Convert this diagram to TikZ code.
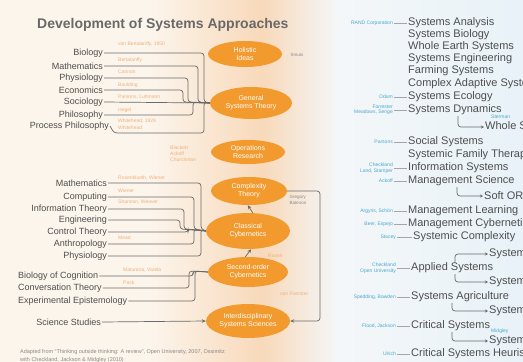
\documentclass[tikz,border=0pt]{standalone}
\usepackage{fontspec}
\setmainfont{Liberation Sans}
\usetikzlibrary{shapes.geometric,arrows.meta}
\definecolor{cream}{HTML}{FCF5EC}
\definecolor{peach}{HTML}{F8D9BA}
\definecolor{orng}{HTML}{F29A2E}
\definecolor{lineg}{HTML}{6A6A6A}
\definecolor{labg}{HTML}{4E4E4E}
\definecolor{namor}{HTML}{F0B078}
\definecolor{tealc}{HTML}{4AA8CF}
\definecolor{skyl}{HTML}{F4F7F9}
\definecolor{skyr}{HTML}{E8F2F8}
\begin{document}
\begin{tikzpicture}[x=1pt,y=-1pt,
  ell/.style={ellipse, fill=orng, text=white, inner sep=0pt, align=center,
              font=\fontsize{7}{8}\selectfont},
  src/.style={text=labg, font=\fontsize{9}{10}\selectfont, inner sep=1pt, anchor=east},
  srcl/.style={src, anchor=west},
  who/.style={text=namor, font=\fontsize{5}{6}\selectfont, inner sep=0pt, anchor=west, align=left},
  note/.style={text=lineg!80, font=\fontsize{4.5}{5.5}\selectfont, inner sep=0pt, align=left},
  conn/.style={draw=lineg, line width=0.7pt, rounded corners=3pt},
  flow/.style={conn, -{Stealth[length=4pt,width=3.5pt]}},
  item/.style={text=labg, font=\fontsize{11}{12}\selectfont, anchor=west, inner sep=1pt},
  auth/.style={text=tealc, font=\fontsize{5}{5.5}\selectfont, anchor=east, inner sep=1pt, align=right},
  tie/.style={draw=lineg!60, line width=0.5pt},
  branch/.style={draw=lineg, line width=0.7pt, rounded corners=3pt, -{Stealth[length=3pt,width=3pt]}},
]
\useasboundingbox (0,0) rectangle (523,362);
\clip (0,0) rectangle (523,362);

% panels
\fill[skyl] (0,0) rectangle (523,362);
\shade[left color=skyl, right color=skyr] (335,0) rectangle (523,362);
\fill[cream] (0,0) rectangle (300,362);
\shade[left color=cream, right color=peach] (150,0) rectangle (262,362);
\shade[left color=peach, right color=skyl] (262,0) rectangle (338,362);

% title
\node[font=\bfseries\fontsize{14}{16}\selectfont, text=labg!85, anchor=west, inner sep=0pt]
  (title) at (37,25) {Development of Systems Approaches};

% approaches
\node[ell, minimum width=74, minimum height=26] (hol) at (245,54) {Holistic\\Ideas};
\node[ell, minimum width=82, minimum height=32] (gst) at (251,103) {General\\Systems Theory};
\node[ell, minimum width=74, minimum height=24] (ops) at (248,152) {Operations\\Research};
\node[ell, minimum width=76, minimum height=28] (cpx) at (249,191) {Complexity\\Theory};
\node[ell, minimum width=84, minimum height=36] (cyb) at (248,231) {Classical\\Cybernetics};
\node[ell, minimum width=80, minimum height=30] (soc) at (248,272) {Second-order\\Cybernetics};
\node[ell, minimum width=84, minimum height=34] (iss) at (248,321) {Interdisciplinary\\Systems Sciences};

% disciplines feeding general systems theory
\node[src] (bio) at (104,53) {Biology};
\node[src] (mat) at (104,66) {Mathematics};
\node[src] (phy) at (104,78) {Physiology};
\node[src] (eco) at (104,90) {Economics};
\node[src] (scg) at (104,102) {Sociology};
\node[src] (phi) at (104,115) {Philosophy};
\node[src] (pro) at (110,126) {Process Philosophy};
\coordinate (g1) at (204,102);
\coordinate (g2) at (198,102);
\coordinate (g3) at (188,102);
\coordinate (g4) at (183,102);
\coordinate (g5) at (193,102);
\coordinate (g6) at (204,133);
\draw[conn] (bio.east) -| (g1) -- (gst.west);
\draw[conn] (mat.east) -| (g2) -- (gst.west);
\draw[conn] (phy.east) -| (g3) -- (gst.west);
\draw[conn] (eco.east) -| (g4) -- (gst.west);
\draw[conn] (scg.east) -- (gst.west);
\draw[conn] (phi.east) -| (g5) -- (gst.west);
\draw[conn] (pro.east) -- ++(4,7) -- (g6) -- (g1) -- (gst.west);
\node[who] at (118,44) {von Bertalanffy, 1950};
\node[who] at (118,60) {Bertalanffy};
\node[who] at (118,72) {Cannon};
\node[who] at (118,85) {Boulding};
\node[who] at (118,97) {Parsons, Luhmann};
\node[who] at (118,110) {Hegel};
\node[who] at (118,121) {Whitehead, 1929};
\node[who] at (118,128) {Whitehead};

% operations research
\node[who, align=left] (orn) at (170,154) {Blackett\\Ackoff\\Churchman};

% disciplines feeding cybernetics
\node[src] (m2) at (108,183) {Mathematics};
\node[src] (cmp) at (108,197) {Computing};
\node[src] (inf) at (108,209) {Information Theory};
\node[src] (eng) at (108,220) {Engineering};
\node[src] (ctl) at (108,232) {Control Theory};
\node[src] (ant) at (108,244) {Anthropology};
\node[src] (ph2) at (108,256) {Physiology};
\coordinate (c1) at (201,229);
\coordinate (c2) at (194,229);
\coordinate (c3) at (184,229);
\coordinate (c4) at (180,229);
\coordinate (c5) at (188,229);
\draw[conn] (m2.east) -| (c1) -- (cyb.west);
\draw[conn] (cmp.east) -| (c2) -- (cyb.west);
\draw[conn] (inf.east) -| (c3) -- (cyb.west);
\draw[conn] (eng.east) -| (c4) -- (cyb.west);
\draw[conn] (ctl.east) -| (c5) -- (cyb.west);
\draw[conn] (ant.east) -| (c2) -- (cyb.west);
\draw[conn] (ph2.east) -| (c1) -- (cyb.west);
\node[who] at (118,178) {Rosenblueth, Wiener};
\node[who] at (118,191) {Wiener};
\node[who] at (118,202) {Shannon, Weaver};
\node[who] at (118,238) {Mead};

% disciplines feeding second-order cybernetics
\node[srcl] (boc) at (17,276) {Biology of Cognition};
\node[srcl] (cvt) at (17,288) {Conversation Theory};
\node[srcl] (exp) at (17,301) {Experimental Epistemology};
\coordinate (s1) at (193,271);
\coordinate (s2) at (189,271);
\coordinate (s3) at (195,271);
\draw[conn] (boc.east) -| (s1) -- (soc.west);
\draw[conn] (cvt.east) -| (s2) -- (soc.west);
\draw[conn] (exp.east) -| (s3) -- (soc.west);
\node[who] at (123,270) {Maturana, Varela};
\node[who] at (123,283) {Pask};

% science studies
\node[src] (sci) at (102,322) {Science Studies};
\draw[flow] (sci.east) -- (iss.west);

% links between approaches
\draw[flow] (cyb.75) -- (cpx.-95);
\draw[flow] (soc.100) -- (cyb.-80);
\coordinate (rail) at (320,260);
\draw[flow] (cpx.east) -| (rail) |- (iss.east);
\node[note] at (297,55) {Smuts};
\node[note] at (298,200) {Gregory\\Bateson};
\node[who] at (268,256) {Rosen};
\node[who] at (280,294) {von Foerster};

% footnote
\node[note, anchor=west, font=\fontsize{5.5}{7}\selectfont] (src1) at (20,352)
  {Adapted from “Thinking outside thinking: A review”, Open University, 2007, Ossimitz};
\node[note, anchor=west, font=\fontsize{5.5}{7}\selectfont] (src2) at (20,360)
  {with Checkland, Jackson \& Midgley (2010)};

% systems approaches
\node[item] (sa) at (407,23) {Systems Analysis};
\node[item] (sb) at (407,35) {Systems Biology};
\node[item] (we) at (407,47) {Whole Earth Systems};
\node[item] (se) at (407,59) {Systems Engineering};
\node[item] (fs) at (407,71) {Farming Systems};
\node[item] (cas) at (407,84) {Complex Adaptive Systems};
\node[item] (sec) at (407,97) {Systems Ecology};
\node[item] (sd) at (407,110) {Systems Dynamics};
\node[item] (wst) at (484,127) {Whole Systems Thinking};
\node[item] (ss) at (407,142) {Social Systems};
\node[item] (sft) at (407,155) {Systemic Family Therapy};
\node[item] (is) at (407,168) {Information Systems};
\node[item] (ms) at (407,181) {Management Science};
\node[item] (sor) at (483,196) {Soft OR};
\node[item] (ml) at (407,211) {Management Learning};
\node[item] (mc) at (407,224) {Management Cybernetics};
\node[item] (sc) at (412,237) {Systemic Complexity};
\node[item] (sp) at (488,254) {Systems Practice};
\node[item] (ap) at (410,268) {Applied Systems};
\node[item] (si) at (488,282) {Systemic Inquiry};
\node[item] (sag) at (410,297) {Systems Agriculture};
\node[item] (sdv) at (488,311) {Systemic Development};
\node[item] (cs) at (410,326) {Critical Systems};
\node[item] (sin) at (488,341) {Systemic Intervention};
\node[item] (csh) at (410,354) {Critical Systems Heuristics};

% originators
\node[auth] (a1) at (394,23) {RAND Corporation};
\node[auth] (a2) at (394,97) {Odum};
\node[auth] (a3) at (394,110) {Forrester\\Meadows, Senge};
\node[auth] (a4) at (394,142) {Parsons};
\node[auth] (a5) at (394,168) {Checkland\\Land, Stamper};
\node[auth] (a6) at (394,181) {Ackoff};
\node[auth] (a7) at (394,211) {Argyris, Schön};
\node[auth] (a8) at (394,224) {Beer, Espejo};
\node[auth] (a9) at (397,237) {Stacey};
\node[auth] (a10) at (397,268) {Checkland\\Open University};
\node[auth] (a11) at (397,297) {Spedding, Bawden};
\node[auth] (a12) at (397,326) {Flood, Jackson};
\node[auth] (a13) at (397,354) {Ulrich};
\node[auth, anchor=west] (a14) at (490,117) {Sterman};
\node[auth, anchor=west] (a15) at (490,331) {Midgley};
\draw[tie] (a1.east) -- (sa.west);
\draw[tie] (a2.east) -- (sec.west);
\draw[tie] (a3.east) -- (sd.west);
\draw[tie] (a4.east) -- (ss.west);
\draw[tie] (a5.east) -- (is.west);
\draw[tie] (a6.east) -- (ms.west);
\draw[tie] (a7.east) -- (ml.west);
\draw[tie] (a8.east) -- (mc.west);
\draw[tie] (a9.east) -- (sc.west);
\draw[tie] (a10.east) -- (ap.west);
\draw[tie] (a11.east) -- (sag.west);
\draw[tie] (a12.east) -- (cs.west);
\draw[tie] (a13.east) -- (csh.west);

% offshoots
\coordinate (b1) at (458,116);
\coordinate (b2) at (457,187);
\coordinate (b3) at (455,262);
\coordinate (b4) at (455,274);
\coordinate (b5) at (452,303);
\coordinate (b6) at (452,332);
\draw[branch] (b1) |- (wst.west);
\draw[branch] (b2) |- (sor.west);
\draw[branch] (b3) |- (sp.west);
\draw[branch] (b4) |- (si.west);
\draw[branch] (b5) |- (sdv.west);
\draw[branch] (b6) |- (sin.west);
\end{tikzpicture}
\end{document}
